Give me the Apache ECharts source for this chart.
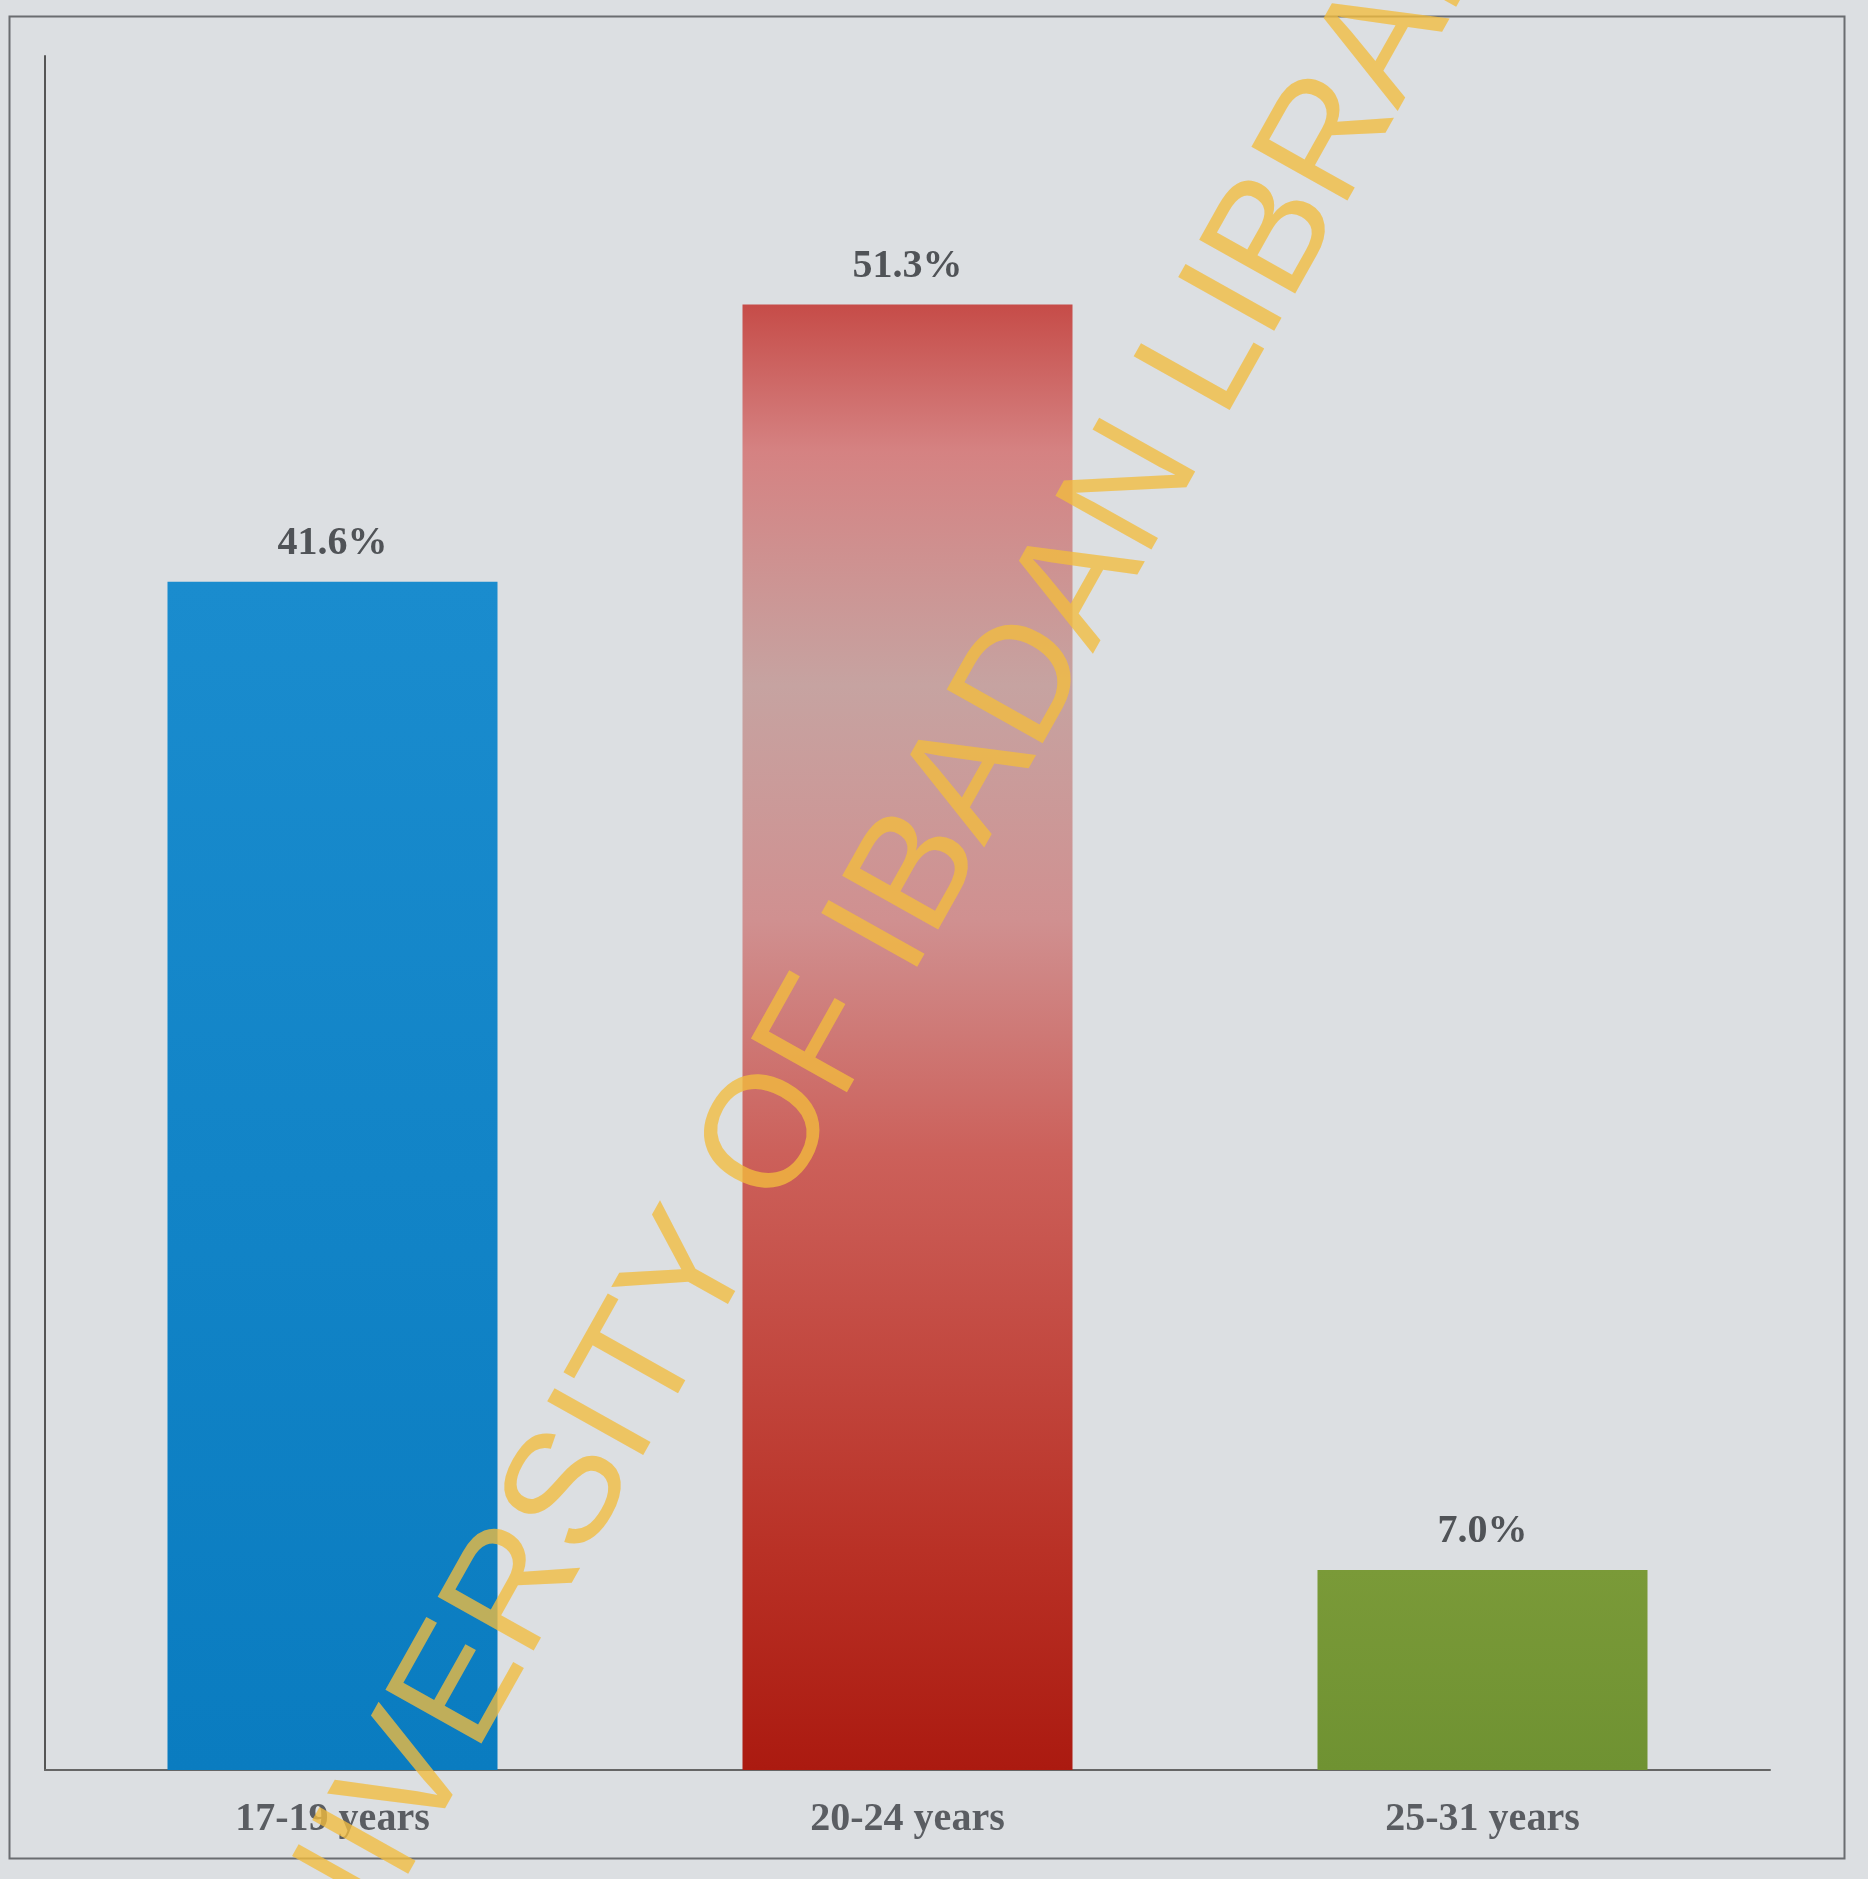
<!DOCTYPE html>
<html>
<head>
<meta charset="utf-8">
<script src="https://cdn.jsdelivr.net/npm/echarts@6/dist/echarts.min.js"></script>
<style>
html,body{margin:0;padding:0;background:#dcdfe2;}
#chart{width:1868px;height:1879px;}
</style>
</head>
<body>
<div id="chart"></div>
<script>
var categories = ['17-19 years', '20-24 years', '25-31 years'];
var values = [41.6, 51.3, 7.0];
var valueLabels = ['41.6%', '51.3%', '7.0%'];

var barColors = [
  new echarts.graphic.LinearGradient(0, 0, 0, 1, [
    {offset: 0, color: '#1a8cce'}, {offset: 1, color: '#0a7cc0'}
  ]),
  new echarts.graphic.LinearGradient(0, 0, 0, 1, [
    {offset: 0, color: '#c64c48'},
    {offset: 0.1, color: '#d58282'},
    {offset: 0.26, color: '#c6a3a1'},
    {offset: 0.42, color: '#d09090'},
    {offset: 0.58, color: '#cc605a'},
    {offset: 0.85, color: '#b93126'},
    {offset: 1, color: '#ab1a10'}
  ]),
  new echarts.graphic.LinearGradient(0, 0, 0, 1, [
    {offset: 0, color: '#7a9a38'}, {offset: 1, color: '#6f9232'}
  ])
];

var chart = echarts.init(document.getElementById('chart'));
chart.setOption({
  backgroundColor: '#dcdfe2',
  animation: false,
  grid: {left: 45, right: 98, top: 56, bottom: 109, containLabel: false},
  xAxis: {
    type: 'category',
    data: categories,
    axisLine: {show: true, lineStyle: {color: '#666', width: 2}},
    axisTick: {show: false},
    axisLabel: {
      margin: 30,
      fontFamily: 'Liberation Serif',
      fontWeight: 'bold',
      fontSize: 40,
      color: '#5a5d62'
    }
  },
  yAxis: {
    type: 'value',
    min: 0,
    max: 60,
    axisLine: {show: true, lineStyle: {color: '#555', width: 2}},
    axisTick: {show: false},
    axisLabel: {show: false},
    splitLine: {show: false}
  },
  series: [{
    type: 'bar',
    barWidth: 330,
    data: values.map(function (v, i) {
      return {value: v, itemStyle: {color: barColors[i]}};
    }),
    label: {
      show: true,
      position: 'top',
      distance: 18,
      fontFamily: 'Liberation Serif',
      fontWeight: 'bold',
      fontSize: 40,
      color: '#505357',
      formatter: function (p) { return valueLabels[p.dataIndex]; }
    }
  }],
  graphic: [
    {
      type: 'rect',
      left: 7, top: 14,
      shape: {width: 1835, height: 1842},
      style: {fill: 'none', stroke: '#6a6d70', lineWidth: 2},
      z: 0
    },
    {
      type: 'text',
      x: 884, y: 936,
      rotation: 60.7 * Math.PI / 180,
      style: {
        text: 'UNIVERSITY OF IBADAN LIBRARY',
        fontFamily: 'Liberation Sans',
        fontSize: 160,
        fill: 'rgba(242,188,62,0.78)',
        align: 'center',
        verticalAlign: 'middle'
      },
      z: 100
    }
  ]
});
</script>
</body>
</html>
